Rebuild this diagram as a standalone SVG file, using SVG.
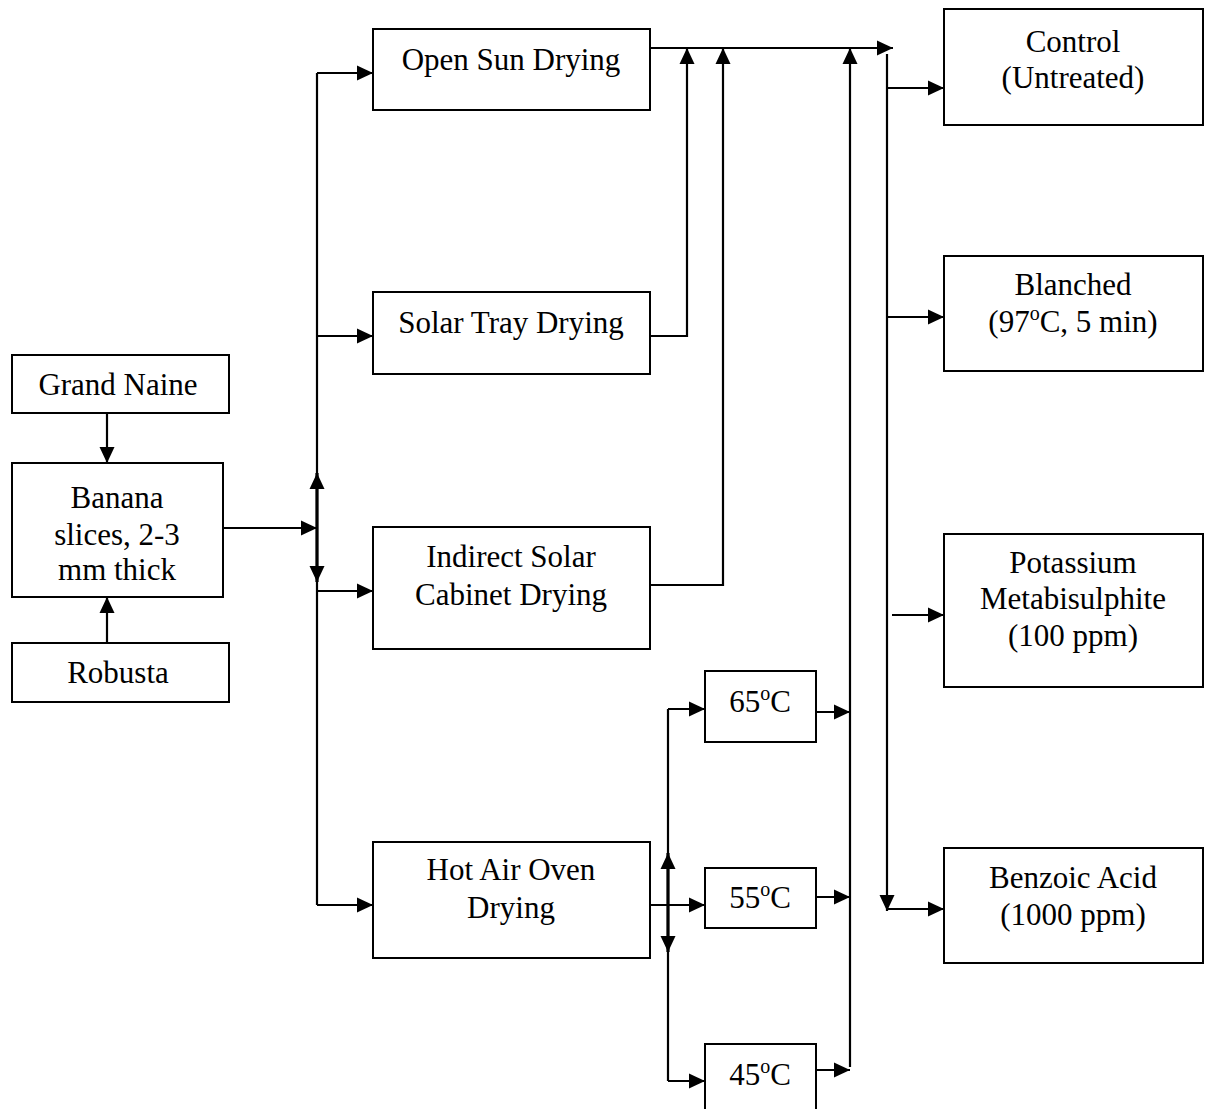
<svg xmlns="http://www.w3.org/2000/svg" width="1206" height="1109" viewBox="0 0 1206 1109">
<defs>
<marker id="ah" markerUnits="userSpaceOnUse" markerWidth="16" markerHeight="16" refX="16" refY="8" orient="auto">
<path d="M0,0.5 L16,8 L0,15.5 z" fill="#000"/>
</marker>
<style>
.box{fill:#fff;stroke:#000;stroke-width:2}
.t{font-family:"Liberation Serif","Times New Roman",serif;font-size:31px;fill:#000;text-anchor:middle}
.sup{font-size:20px}
.c{fill:none;stroke:#000;stroke-width:2.2}
.a{marker-end:url(#ah)}
.thick{stroke-width:3.2}
</style>
</defs>
<rect width="1206" height="1109" fill="#fff"/>

<g id="connectors">
<path class="c a" d="M107,413 V463"/>
<path class="c a" d="M107,643 V597"/>
<path class="c a" d="M223,528 H317"/>
<path class="c" d="M317,73 V905"/>
<path class="c thick a" d="M317,528 V473"/>
<path class="c thick a" d="M317,528 V582"/>
<path class="c a" d="M317,73 H373"/>
<path class="c a" d="M317,336 H373"/>
<path class="c a" d="M317,591 H373"/>
<path class="c a" d="M317,905 H373"/>

<path class="c a" d="M650,48 H893"/>
<path class="c a" d="M650,336 H687 V48"/>
<path class="c a" d="M650,585 H723 V48"/>
<path class="c a" d="M850,1067 V48"/>
<path class="c a" d="M816,712 H850"/>
<path class="c a" d="M816,897 H850"/>
<path class="c a" d="M816,1070 H850"/>

<path class="c a" d="M650,905 H705"/>
<path class="c" d="M668,709 V1081"/>
<path class="c thick a" d="M668,905 V853"/>
<path class="c thick a" d="M668,905 V952"/>
<path class="c a" d="M668,709 H705"/>
<path class="c a" d="M668,1081 H705"/>

<path class="c a" d="M887,54 V911"/>
<path class="c a" d="M888,88 H944"/>
<path class="c a" d="M888,317 H944"/>
<path class="c a" d="M892,615 H944"/>
<path class="c a" d="M887,909 H944"/>
</g>

<g id="grand-naine">
<rect class="box" x="12" y="355" width="217" height="58"/>
<text class="t" x="118" y="395">Grand Naine</text>
</g>
<g id="banana">
<rect class="box" x="12" y="463" width="211" height="134"/>
<text class="t" x="117" y="508">Banana</text>
<text class="t" x="117" y="545">slices, 2-3</text>
<text class="t" x="117" y="580">mm thick</text>
</g>
<g id="robusta">
<rect class="box" x="12" y="643" width="217" height="59"/>
<text class="t" x="118" y="683">Robusta</text>
</g>

<g id="open-sun">
<rect class="box" x="373" y="29" width="277" height="81"/>
<text class="t" x="511" y="70">Open Sun Drying</text>
</g>
<g id="solar-tray">
<rect class="box" x="373" y="292" width="277" height="82"/>
<text class="t" x="511" y="333">Solar Tray Drying</text>
</g>
<g id="indirect-solar">
<rect class="box" x="373" y="527" width="277" height="122"/>
<text class="t" x="511" y="567">Indirect Solar</text>
<text class="t" x="511" y="605">Cabinet Drying</text>
</g>
<g id="hot-air">
<rect class="box" x="373" y="842" width="277" height="116"/>
<text class="t" x="511" y="880">Hot Air Oven</text>
<text class="t" x="511" y="918">Drying</text>
</g>

<g id="t65">
<rect class="box" x="705" y="671" width="111" height="71"/>
<text class="t" x="760" y="712">65<tspan class="sup" dy="-12">o</tspan><tspan dy="12">C</tspan></text>
</g>
<g id="t55">
<rect class="box" x="705" y="868" width="111" height="60"/>
<text class="t" x="760" y="908">55<tspan class="sup" dy="-12">o</tspan><tspan dy="12">C</tspan></text>
</g>
<g id="t45">
<rect class="box" x="705" y="1044" width="111" height="80"/>
<text class="t" x="760" y="1085">45<tspan class="sup" dy="-12">o</tspan><tspan dy="12">C</tspan></text>
</g>

<g id="control">
<rect class="box" x="944" y="9" width="259" height="116"/>
<text class="t" x="1073" y="52">Control</text>
<text class="t" x="1073" y="88">(Untreated)</text>
</g>
<g id="blanched">
<rect class="box" x="944" y="256" width="259" height="115"/>
<text class="t" x="1073" y="295">Blanched</text>
<text class="t" x="1073" y="332">(97<tspan class="sup" dy="-12">o</tspan><tspan dy="12">C, 5 min)</tspan></text>
</g>
<g id="kms">
<rect class="box" x="944" y="534" width="259" height="153"/>
<text class="t" x="1073" y="573">Potassium</text>
<text class="t" x="1073" y="609">Metabisulphite</text>
<text class="t" x="1073" y="646">(100 ppm)</text>
</g>
<g id="benzoic">
<rect class="box" x="944" y="848" width="259" height="115"/>
<text class="t" x="1073" y="888">Benzoic Acid</text>
<text class="t" x="1073" y="925">(1000 ppm)</text>
</g>
</svg>
